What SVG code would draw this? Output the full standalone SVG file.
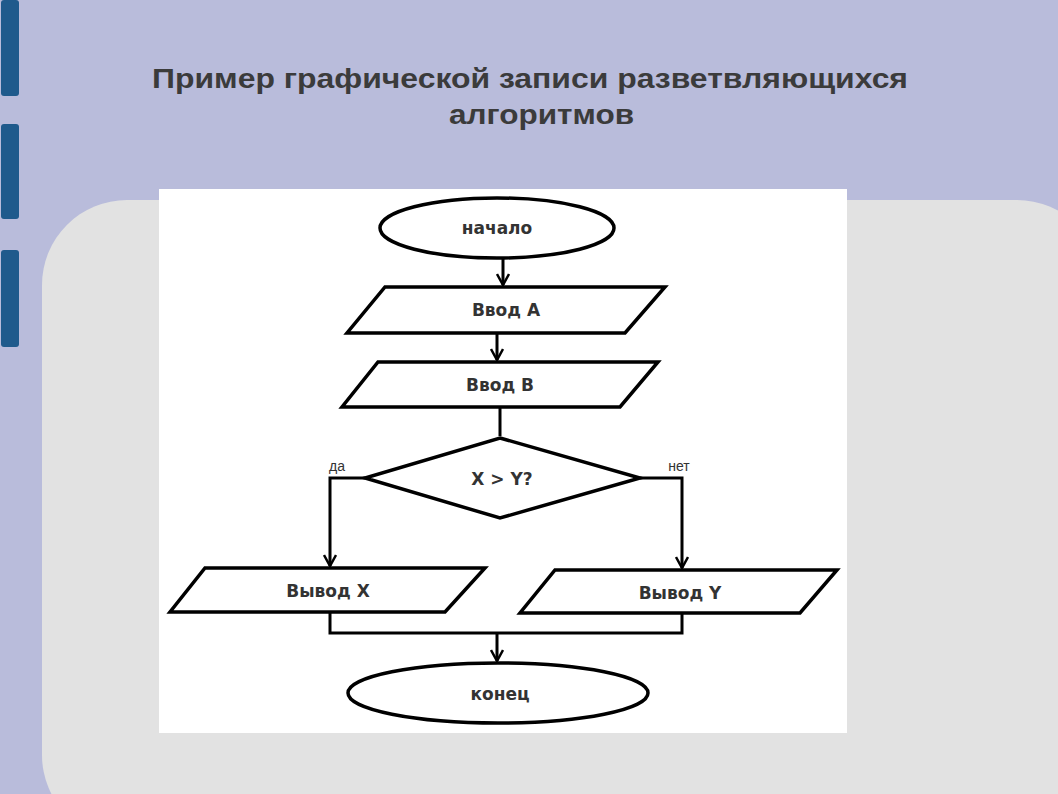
<svg xmlns="http://www.w3.org/2000/svg" width="1058" height="794" viewBox="0 0 1058 794">
<defs>
<marker id="ah" markerWidth="14" markerHeight="14" refX="12" refY="7" orient="auto" markerUnits="userSpaceOnUse" viewBox="0 0 14 14">
<path d="M1,1 L12,7 L1,13" fill="none" stroke="#000" stroke-width="2.5"/>
</marker>
</defs>
<style>
.s{fill:#fff;stroke:#000;stroke-width:3.5}
.t{font-family:"DejaVu Sans",sans-serif;font-size:17px;font-weight:bold;fill:#333;text-anchor:middle}
.c{fill:none;stroke:#000;stroke-width:3}
.l{font-family:"Liberation Sans",sans-serif;font-size:14px;fill:#333;text-anchor:middle}
</style>
<rect width="1058" height="794" fill="#b9bcdb"/>
<rect x="1" y="0" width="18" height="96" rx="3" fill="#1f5a8c"/>
<rect x="1" y="124" width="18" height="95" rx="3" fill="#1f5a8c"/>
<rect x="1" y="250" width="18" height="97" rx="3" fill="#1f5a8c"/>
<rect x="42" y="200" width="1060" height="640" rx="85" fill="#e2e2e2"/>
<text font-family="Liberation Sans,sans-serif" font-size="28" font-weight="bold" fill="#3b3b3b"><tspan x="152" y="88" textLength="756" lengthAdjust="spacingAndGlyphs">Пример графической записи разветвляющихся</tspan><tspan x="449" y="124" textLength="185" lengthAdjust="spacingAndGlyphs">алгоритмов</tspan></text>
<rect x="159" y="189" width="688" height="544" fill="#fff"/>
<g id="connectors">
<path class="c" d="M503,258 V285" marker-end="url(#ah)"/>
<path class="c" d="M497,333 V360" marker-end="url(#ah)"/>
<path class="c" d="M500,407 V436"/>
<path class="c" d="M365,478 H330 V566" marker-end="url(#ah)"/>
<path class="c" d="M640,478 H682 V568" marker-end="url(#ah)"/>
<path class="c" d="M330,612 V633 H682 V613"/>
<path class="c" d="M497,633 V661" marker-end="url(#ah)"/>
<text class="l" x="337" y="471">да</text>
<text class="l" x="679" y="471">нет</text>
</g>
<g id="start"><ellipse class="s" cx="497" cy="228" rx="117" ry="30"/><text class="t" x="497" y="234">начало</text></g>
<g id="inA"><polygon class="s" points="385,287 665,287 625,333 347,333"/><text class="t" x="506" y="316">Ввод А</text></g>
<g id="inB"><polygon class="s" points="378,362 658,362 620,407 342,407"/><text class="t" x="500" y="391">Ввод В</text></g>
<g id="cond"><polygon class="s" points="500,438 640,478 500,518 365,478"/><text class="t" x="502" y="485">X &gt; Y?</text></g>
<g id="outX"><polygon class="s" points="205,568 485,568 445,612 170,612"/><text class="t" x="328" y="597">Вывод X</text></g>
<g id="outY"><polygon class="s" points="555,570 837,570 800,613 520,613"/><text class="t" x="680" y="599">Вывод Y</text></g>
<g id="end"><ellipse class="s" cx="498" cy="693" rx="150" ry="30"/><text class="t" x="500" y="700">конец</text></g>
</svg>
